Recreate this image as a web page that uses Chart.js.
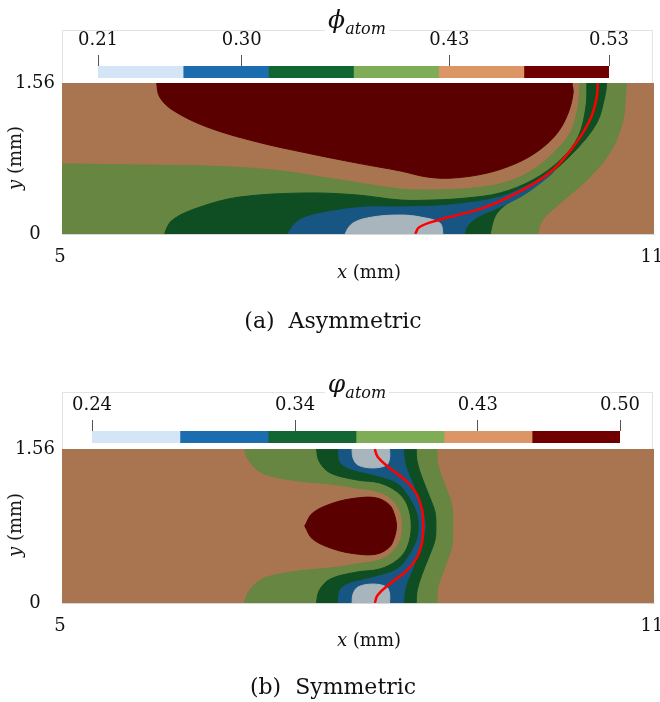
<!DOCTYPE html>
<html>
<head>
<meta charset="utf-8">
<script src="https://cdn.jsdelivr.net/npm/chart.js@4.4.1/dist/chart.umd.min.js"></script>
<style>
  body { margin: 0; width: 660px; height: 702px; overflow: hidden; background: #fff; position: relative; }
  canvas { position: absolute; }
  .frame { position: absolute; border: 1px solid #e3e3e3; border-bottom: none; }
  .lbl { position: absolute; transform: translate(-50%, -50%); white-space: nowrap; line-height: 1;
         font-family: "DejaVu Serif", serif; font-size: 18px; color: #111; }
  .phi { background: #fff; padding: 0 3px; font-size: 25px; }
  .phi sub { font-size: 16px; font-style: italic; }
  .cap { font-size: 22px; }
</style>
</head>
<body>

<div class="frame" style="left:62px;top:30px;width:589px;height:53px"></div>
<canvas id="cbA" width="591" height="52" style="left:62px;top:31px"></canvas>
<div class="lbl phi" style="left:357px;top:22px"><i>ϕ</i><sub>atom</sub></div>
<canvas id="plotA" width="680" height="208" style="left:0;top:60px"></canvas>
<div class="lbl" style="left:15px;top:158px;transform:translate(-50%,-50%) rotate(-90deg)"><i>y</i> (mm)</div>
<div class="lbl" style="left:369px;top:272px"><i>x</i> (mm)</div>
<div class="lbl cap" style="left:333px;top:321px">(a)&nbsp; Asymmetric</div>

<div class="frame" style="left:62px;top:392px;width:589px;height:57px"></div>
<canvas id="cbB" width="591" height="56" style="left:62px;top:393px"></canvas>
<div class="lbl phi" style="left:357px;top:386px"><i>φ</i><sub>atom</sub></div>
<canvas id="plotB" width="680" height="211" style="left:0;top:426px"></canvas>
<div class="lbl" style="left:15px;top:525px;transform:translate(-50%,-50%) rotate(-90deg)"><i>y</i> (mm)</div>
<div class="lbl" style="left:369px;top:640px"><i>x</i> (mm)</div>
<div class="lbl cap" style="left:333px;top:687px">(b)&nbsp; Symmetric</div>

<script>
// axis ticks of the contour plots (mm)
const xTicks = [5, 11];
const yTicks = [0, 1.56];

// colour bar bin edges and labelled ticks
const cbEdgesA = [0.21, 0.2633, 0.3167, 0.37, 0.4233, 0.4767, 0.53];
const cbTicksA = [0.21, 0.30, 0.43, 0.53];
const cbEdgesB = [0.24, 0.2833, 0.3267, 0.37, 0.4133, 0.4567, 0.50];
const cbTicksB = [0.24, 0.34, 0.43, 0.50];

// (a) asymmetric: contour region outlines, [x mm, y mm]
const asymGreen = [[4.9,0.725],[5.79,0.713],[6.47,0.702],[7.14,0.661],[7.82,0.558],[8.43,0.465],[8.76,0.455],[9.17,0.475],[9.51,0.537],[9.77,0.661],[9.98,0.837],[10.15,1.043],[10.23,1.312],[10.25,1.56],[10.25,1.65],[10.72,1.65],[10.72,1.56],[10.71,1.415],[10.68,1.147],[10.55,0.837],[10.32,0.558],[10.05,0.320],[9.87,0.145],[9.82,0],[9.82,-0.1],[4.9,-0.1]];
const asymDarkGreen = [[6.04,-0.1],[6.04,0],[6.12,0.145],[6.40,0.279],[6.80,0.382],[7.48,0.424],[7.99,0.403],[8.43,0.351],[8.76,0.351],[9.10,0.372],[9.44,0.424],[9.77,0.558],[10.05,0.764],[10.23,1.002],[10.31,1.312],[10.32,1.56],[10.32,1.65],[10.52,1.65],[10.52,1.56],[10.50,1.415],[10.42,1.147],[10.18,0.837],[9.87,0.558],[9.61,0.382],[9.41,0.217],[9.34,0],[9.34,-0.1]];
const asymBlue = [[7.29,-0.1],[7.29,0],[7.41,0.145],[7.69,0.227],[8.09,0.279],[8.43,0.279],[8.93,0.300],[9.44,0.382],[9.77,0.527],[9.98,0.640],[9.71,0.424],[9.44,0.279],[9.21,0.176],[9.10,0.072],[9.08,0],[9.08,-0.1]];
const asymGrey = [[7.87,-0.1],[7.87,0],[7.95,0.114],[8.15,0.176],[8.43,0.196],[8.63,0.176],[8.83,0.114],[8.86,0],[8.86,-0.1]];
const asymRed = [[5.96,1.65],[5.96,1.56],[5.99,1.415],[6.12,1.281],[6.47,1.105],[6.98,0.950],[7.48,0.837],[7.99,0.733],[8.43,0.651],[8.70,0.589],[8.96,0.578],[9.31,0.630],[9.61,0.733],[9.84,0.868],[10.02,1.043],[10.13,1.250],[10.18,1.457],[10.17,1.56],[10.17,1.65]];
const asymFront = [[8.58,0],[8.62,0.07],[8.80,0.14],[9.27,0.27],[9.61,0.424],[9.95,0.640],[10.18,0.899],[10.35,1.178],[10.42,1.415],[10.43,1.56]];

// (b) symmetric
const symGreen = [[6.85,1.65],[6.85,1.56],[6.89,1.449],[7.01,1.327],[7.21,1.266],[7.48,1.226],[7.72,1.205],[7.99,1.165],[8.22,1.124],[8.35,1.043],[8.43,0.922],[8.45,0.780],[8.43,0.638],[8.35,0.517],[8.22,0.436],[7.99,0.395],[7.72,0.355],[7.48,0.334],[7.21,0.294],[7.01,0.233],[6.89,0.111],[6.85,0],[6.85,-0.1],[8.80,-0.1],[8.80,0],[8.81,0.162],[8.88,0.365],[8.95,0.567],[8.96,0.780],[8.95,0.993],[8.88,1.195],[8.81,1.398],[8.80,1.56],[8.80,1.65]];
const symDarkGreen = [[7.58,1.65],[7.58,1.56],[7.61,1.428],[7.72,1.317],[7.99,1.246],[8.22,1.216],[8.40,1.124],[8.50,0.993],[8.54,0.780],[8.50,0.567],[8.40,0.436],[8.22,0.344],[7.99,0.314],[7.72,0.243],[7.61,0.132],[7.58,0],[7.58,-0.1],[8.59,-0.1],[8.59,0],[8.60,0.132],[8.65,0.294],[8.73,0.496],[8.78,0.638],[8.79,0.780],[8.78,0.922],[8.73,1.064],[8.65,1.266],[8.60,1.428],[8.59,1.56],[8.59,1.65]];
const symBlue = [[7.80,1.65],[7.80,1.56],[7.82,1.428],[7.90,1.368],[8.09,1.317],[8.25,1.276],[8.40,1.216],[8.51,1.094],[8.60,0.922],[8.62,0.780],[8.60,0.638],[8.51,0.466],[8.40,0.344],[8.25,0.284],[8.09,0.243],[7.90,0.192],[7.82,0.132],[7.80,0],[7.80,-0.1],[8.46,-0.1],[8.46,0],[8.48,0.162],[8.56,0.365],[8.63,0.567],[8.68,0.780],[8.63,0.993],[8.56,1.195],[8.48,1.398],[8.46,1.56],[8.46,1.65]];
const symGreyTop = [[7.94,1.65],[7.94,1.56],[7.95,1.469],[8.00,1.398],[8.15,1.368],[8.29,1.398],[8.32,1.469],[8.32,1.56],[8.32,1.65]];
const symGreyBottom = [[7.94,-0.1],[7.94,0],[7.95,0.091],[8.00,0.162],[8.15,0.192],[8.29,0.162],[8.32,0.091],[8.32,0],[8.32,-0.1]];
const symRed = [[7.46,0.780],[7.54,0.912],[7.75,1.013],[7.99,1.064],[8.19,1.064],[8.32,0.993],[8.37,0.891],[8.39,0.780],[8.37,0.669],[8.32,0.567],[8.19,0.496],[7.99,0.496],[7.75,0.547],[7.54,0.648]];
const symFront = [[8.17,1.56],[8.20,1.479],[8.32,1.368],[8.50,1.226],[8.60,1.094],[8.65,0.942],[8.66,0.780],[8.65,0.618],[8.60,0.466],[8.50,0.334],[8.32,0.192],[8.20,0.081],[8.17,0]];

const BROWN = '#a97450';
const GREEN = '#678641', DKGREEN = '#0e4e22', BLUE = '#175682', GREY = '#a9b5bc', DKRED = '#5b0000';
const cbColors = ['#d3e5f6', '#1c6cb0', '#116631', '#7fac56', '#dc9666', '#700000'];
const textFont = { family: 'DejaVu Serif', size: 18 };

function toXY(arr) {
    return arr.map(function (p) { return { x: p[0], y: p[1] }; });
}

// fills the plot area with the background band colour
const plotBg = {
    id: 'plotBg',
    beforeDatasetsDraw: function (chart, args, opts) {
        const a = chart.chartArea;
        chart.ctx.save();
        chart.ctx.fillStyle = opts.color;
        chart.ctx.fillRect(a.left, a.top, a.right - a.left, a.bottom - a.top);
        chart.ctx.restore();
    }
};

function region(pts, color) {
    return {
        data: toXY(pts.concat([pts[0]])),
        showLine: true,
        fill: 'shape',
        backgroundColor: color,
        borderColor: color,
        borderWidth: 1,
        pointRadius: 0,
        tension: 0.35
    };
}

function frontLine(pts) {
    return {
        data: toXY(pts),
        showLine: true,
        fill: false,
        borderColor: '#ff0000',
        borderWidth: 2.5,
        pointRadius: 0,
        tension: 0.4
    };
}

function makePlot(id, datasets) {
    // first dataset drawn first, last one on top
    datasets.forEach(function (d, i) { d.order = datasets.length - i; });
    return new Chart(document.getElementById(id), {
        type: 'scatter',
        data: { datasets: datasets },
        options: {
            responsive: false,
            animation: false,
            layout: { padding: { top: 23, right: 26, left: 0, bottom: 0 } },
            plugins: { legend: { display: false }, tooltip: { enabled: false }, plotBg: { color: BROWN } },
            scales: {
                x: {
                    type: 'linear', min: 5, max: 11,
                    afterBuildTicks: function (s) { s.ticks = xTicks.map(function (v) { return { value: v }; }); },
                    afterFit: function (s) { s.height = 34; },
                    grid: { display: false, drawTicks: false },
                    border: { display: true, color: '#d6d6d6' },
                    ticks: { font: textFont, color: '#111', padding: 13, maxRotation: 0, autoSkip: false, labelOffset: -2,
                             callback: function (v) { return String(v); } }
                },
                y: {
                    type: 'linear', min: 0, max: 1.56,
                    afterBuildTicks: function (s) { s.ticks = yTicks.map(function (v) { return { value: v }; }); },
                    afterFit: function (s) { s.width = 62; },
                    grid: { display: false, drawTicks: false },
                    border: { display: false },
                    ticks: { font: textFont, color: '#111', padding: 7, crossAlign: 'center', autoSkip: false,
                             callback: function (v) { return v === 0 ? '0' : v.toFixed(2); } }
                }
            }
        },
        plugins: [plotBg]
    });
}

function makeColorbar(id, edges, ticks, pad) {
    const datasets = cbColors.map(function (c, i) {
        return { data: [[edges[i], edges[i + 1]]], backgroundColor: c, borderWidth: 0,
                 grouped: false, barPercentage: 1, categoryPercentage: 1 };
    });
    return new Chart(document.getElementById(id), {
        type: 'bar',
        data: { labels: [''], datasets: datasets },
        options: {
            indexAxis: 'y',
            responsive: false,
            animation: false,
            layout: { padding: { left: pad.left, right: pad.right, top: 0, bottom: pad.bottom } },
            plugins: { legend: { display: false }, tooltip: { enabled: false } },
            scales: {
                x: {
                    type: 'linear', position: 'top', min: edges[0], max: edges[edges.length - 1],
                    afterBuildTicks: function (s) { s.ticks = ticks.map(function (v) { return { value: v }; }); },
                    afterFit: function (s) { s.height = pad.axis; },
                    grid: { display: true, drawOnChartArea: false, drawTicks: true, tickLength: 11, color: '#555', lineWidth: 1 },
                    border: { display: false },
                    ticks: { font: textFont, color: '#111', padding: 4, maxRotation: 0, autoSkip: false,
                             callback: function (v) { return v.toFixed(2); } }
                },
                y: { display: false }
            }
        }
    });
}

makeColorbar('cbA', cbEdgesA, cbTicksA, { left: 36, right: 44, bottom: 5, axis: 35 });
makeColorbar('cbB', cbEdgesB, cbTicksB, { left: 30, right: 33, bottom: 6, axis: 38 });

makePlot('plotA', [
    region(asymGreen, GREEN),
    region(asymDarkGreen, DKGREEN),
    region(asymBlue, BLUE),
    region(asymGrey, GREY),
    region(asymRed, DKRED),
    frontLine(asymFront)
]);

makePlot('plotB', [
    region(symGreen, GREEN),
    region(symDarkGreen, DKGREEN),
    region(symBlue, BLUE),
    region(symGreyTop, GREY),
    region(symGreyBottom, GREY),
    region(symRed, DKRED),
    frontLine(symFront)
]);
</script>
</body>
</html>
